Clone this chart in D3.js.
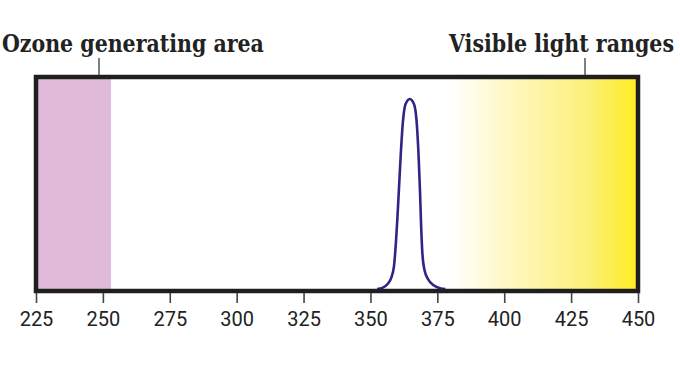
<!DOCTYPE html>
<html>
<head>
<meta charset="utf-8">
<script src="https://cdn.jsdelivr.net/npm/d3@7"></script>
<style>
  html, body { margin: 0; padding: 0; background: #ffffff; }
  svg { display: block; }
</style>
</head>
<body>
<svg id="chart" width="680" height="380"></svg>
<script>
// ---- data ----
const xDomain = [225, 450];
const tickValues = [225, 250, 275, 300, 325, 350, 375, 400, 425, 450];
const ozoneRange = [225, 253];
const visibleRange = [380, 450];
const wavelengths = [352.5, 354.5, 356.3, 357.8, 358.8, 359.5, 360.1, 360.7, 361.3, 362.1, 363.1, 364.7, 366.3, 367.3, 368.0, 368.5, 368.9, 369.4, 370.2, 371.6, 373.6, 376.0, 378.0];
const intensity   = [0.0,   0.006, 0.025, 0.06,  0.12,  0.24,  0.38,  0.54,  0.70,  0.874, 0.972, 1.0,   0.972, 0.874, 0.699, 0.524, 0.35,  0.19,  0.10,  0.05,  0.02,  0.004, 0.0];
const labelLeft = "Ozone generating area";
const labelRight = "Visible light ranges";

// ---- layout ----
const svg = d3.select("#chart");
const frame = { top: 77, bottom: 291 };
const x = d3.scaleLinear().domain(xDomain).range([36, 638]);
const y = d3.scaleLinear().domain([0, 1]).range([289, 99]);

const defs = svg.append("defs");
const grad = defs.append("linearGradient")
  .attr("id", "visGrad").attr("x1", "0%").attr("x2", "100%").attr("y1", "0%").attr("y2", "0%");
[["0%", "#ffffff"], ["20%", "#fffad8"], ["47%", "#fdf4a5"], ["74%", "#fcef78"], ["90%", "#fded40"], ["100%", "#ffee22"]]
  .forEach(s => grad.append("stop").attr("offset", s[0]).attr("stop-color", s[1]));

// ozone area
svg.append("rect")
  .attr("x", x(ozoneRange[0])).attr("y", frame.top)
  .attr("width", x(ozoneRange[1]) - x(ozoneRange[0]))
  .attr("height", frame.bottom - frame.top)
  .attr("fill", "#dfbad9");

// visible area
svg.append("rect")
  .attr("x", x(visibleRange[0])).attr("y", frame.top)
  .attr("width", x(visibleRange[1]) - x(visibleRange[0]))
  .attr("height", frame.bottom - frame.top)
  .attr("fill", "url(#visGrad)");

// spectrum curve
const pts = wavelengths.map((w, i) => [w, intensity[i]]);
const line = d3.line().x(d => x(d[0])).y(d => y(d[1])).curve(d3.curveMonotoneX);
svg.append("path")
  .attr("d", line(pts))
  .attr("fill", "none")
  .attr("stroke", "#2e2585")
  .attr("stroke-width", 2.6)
  .attr("stroke-linejoin", "round");

// frame
svg.append("rect")
  .attr("x", x(xDomain[0])).attr("y", frame.top)
  .attr("width", x(xDomain[1]) - x(xDomain[0]))
  .attr("height", frame.bottom - frame.top)
  .attr("fill", "none")
  .attr("stroke", "#1f1f1f")
  .attr("stroke-width", 4.5);

// axis
const axis = svg.append("g")
  .attr("transform", `translate(0,${frame.bottom + 2})`)
  .call(d3.axisBottom(x).tickValues(tickValues).tickSize(10).tickPadding(9).tickFormat(d3.format("d")));
axis.select(".domain").remove();
axis.selectAll(".tick line").attr("stroke", "#444").attr("stroke-width", 1.6);
axis.selectAll(".tick text")
  .attr("fill", "#222")
  .attr("font-family", "Roboto, 'Liberation Sans', sans-serif")
  .attr("font-size", 20);

// labels with leader lines (horizontally fitted to the reference widths)
const titleFont = "'DejaVu Serif', serif";
function fittedLabel(txt, left, baseline, width) {
  const g = svg.append("g");
  const t = g.append("text")
    .attr("x", 0).attr("y", 0)
    .attr("font-family", titleFont).attr("font-weight", "bold").attr("font-size", 23.5)
    .attr("fill", "#222")
    .text(txt);
  const natural = t.node().getComputedTextLength();
  g.attr("transform", `translate(${left},${baseline}) scale(${width / natural},1)`);
}
fittedLabel(labelLeft, 2, 52, 262);
fittedLabel(labelRight, 449, 52, 225);

svg.append("line")
  .attr("x1", 99).attr("x2", 99).attr("y1", 58).attr("y2", frame.top - 2)
  .attr("stroke", "#555").attr("stroke-width", 1.5);
svg.append("line")
  .attr("x1", 585).attr("x2", 585).attr("y1", 58).attr("y2", frame.top - 2)
  .attr("stroke", "#555").attr("stroke-width", 1.5);
</script>
</body>
</html>
